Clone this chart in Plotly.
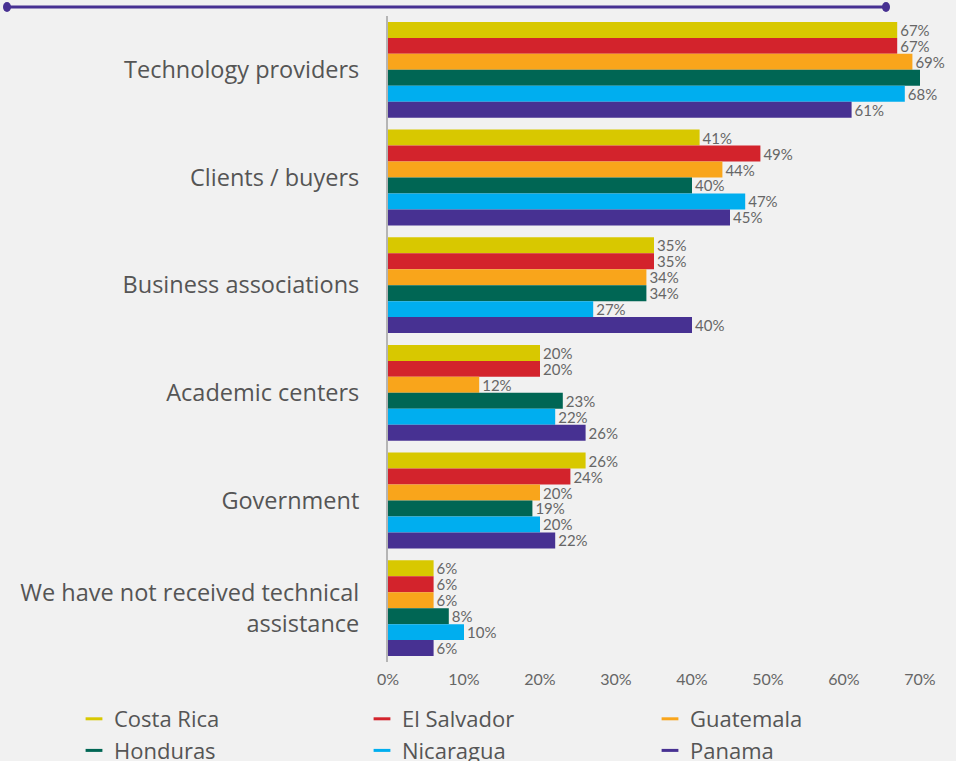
import plotly.graph_objects as go

# --- data ---
categories = ["Technology providers", "Clients / buyers", "Business associations",
              "Academic centers", "Government",
              "We have not received technical<br>assistance"]
countries = ["Costa Rica", "El Salvador", "Guatemala", "Honduras", "Nicaragua", "Panama"]
costa_rica = [67, 41, 35, 20, 26, 6]
el_salvador = [67, 49, 35, 20, 24, 6]
guatemala = [69, 44, 34, 12, 20, 6]
honduras = [70, 40, 34, 23, 19, 8]
nicaragua = [68, 47, 27, 22, 20, 10]
panama = [61, 45, 40, 26, 22, 6]
# honduras / technology providers has no label in the source
show_label = {"Honduras": [False, True, True, True, True, True]}
tick_vals = [0, 10, 20, 30, 40, 50, 60, 70]
tick_text = ["0%", "10%", "20%", "30%", "40%", "50%", "60%", "70%"]

colors = ["#d8c800", "#d3232c", "#f9a51b", "#006654", "#00aeef", "#473192"]
series = [costa_rica, el_salvador, guatemala, honduras, nicaragua, panama]

BG = "#f1f1f1"
W, H = 956, 761
L, R, T, B = 388, 21, 16, 99
pw, ph = W - L - R, H - T - B

fig = go.Figure()
for name, vals, col in zip(countries, series, colors):
    flags = show_label.get(name, [True] * len(vals))
    txt = [f"{v}%" if f else "" for v, f in zip(vals, flags)]
    fig.add_trace(go.Bar(
        y=categories, x=vals, orientation="h", name=name,
        marker=dict(color=col, line=dict(width=0)),
        text=txt, textposition="outside", constraintext="none", cliponaxis=False,
        textfont=dict(family="Lato", size=15, color="#666666"),
        showlegend=False, hoverinfo="skip",
    ))
    # legend entry drawn as a short dash
    fig.add_trace(go.Scatter(
        x=[None], y=[None], mode="markers", name=name,
        marker=dict(symbol="line-ew", size=12, line=dict(color=col, width=3)),
    ))

# top decorative line with dots
x0 = (7 - L) / pw
x1 = (886 - L) / pw
yl = 1 + (T - 7) / ph
fig.add_shape(type="line", xref="paper", yref="paper", x0=x0, x1=x1, y0=yl, y1=yl,
              line=dict(color="#473192", width=3))
for xx in (x0, x1):
    fig.add_shape(type="circle", xref="paper", yref="paper",
                  x0=xx - 4 / pw, x1=xx + 4 / pw, y0=yl - 5 / ph, y1=yl + 5 / ph,
                  fillcolor="#473192", line=dict(width=0))

fig.update_layout(
    width=W, height=H,
    paper_bgcolor=BG, plot_bgcolor=BG,
    margin=dict(l=L, r=R, t=T, b=B, autoexpand=False),
    barmode="group", bargap=0.11, bargroupgap=0,
    font=dict(family="Open Sans", color="#555555"),
    legend=dict(orientation="h", x=(74 - L) / pw, xanchor="left",
                y=(-(698 - (T + ph)) / ph), yanchor="top",
                entrywidth=243, font=dict(size=22, color="#555555"),
                bgcolor="rgba(0,0,0,0)", tracegroupgap=0),
    xaxis=dict(range=[0, pw / 7.6], tickvals=tick_vals, ticktext=tick_text,
               showgrid=False, zeroline=False, showline=False, ticks="",
               ticklabelstandoff=6,
               tickfont=dict(family="Lato", size=16, color="#666666")),
    yaxis=dict(autorange="reversed", showgrid=False, zeroline=False,
               showline=True, linecolor="#b5b5b5", linewidth=2, ticks="",
               ticklabelstandoff=22,
               tickfont=dict(family="Open Sans", size=23.5, color="#555555")),
)

fig.write_html("out.html", config={"displayModeBar": False},
               post_script="document.body.style.margin='0';")
